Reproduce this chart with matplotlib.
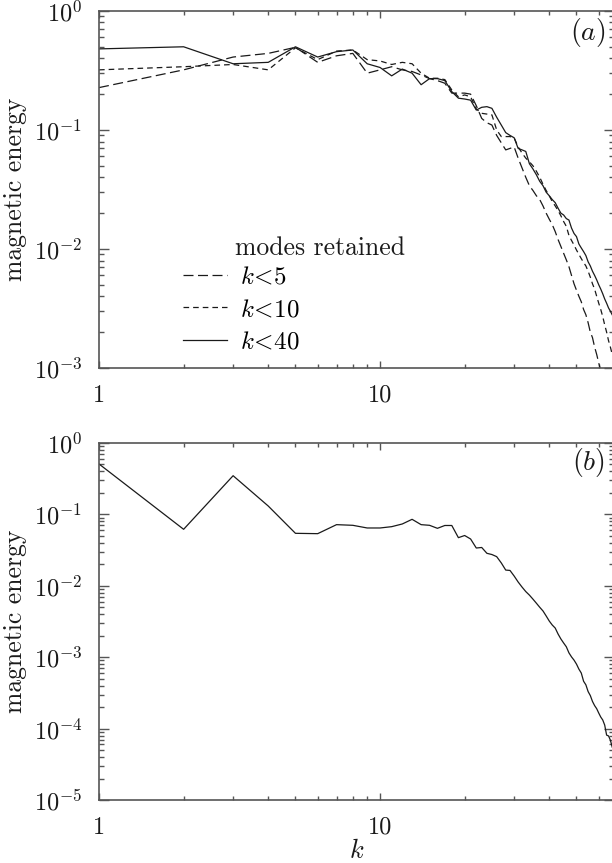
#!/usr/bin/env python3
"""Magnetic energy spectra: (a) truncated runs with k<5, k<10, k<40 retained, (b) one run."""

import matplotlib

matplotlib.use("Agg")
import matplotlib.pyplot as plt
from matplotlib.ticker import LogLocator, NullFormatter

# panel (a): energy per integer wavenumber k, one list per truncation
E_K5 = [0.227, 0.32, 0.41, 0.44, 0.495, 0.37, 0.42, 0.44, 0.30, 0.32,
        0.34, 0.32, 0.31, 0.29, 0.27, 0.26, 0.247, 0.204, 0.204, 0.204,
        0.200, 0.16, 0.125, 0.115, 0.11, 0.09, 0.078, 0.068, 0.070, 0.072,
        0.058, 0.048, 0.040, 0.034, 0.031, 0.028, 0.026, 0.023, 0.020, 0.0178,
        0.0160, 0.0140, 0.0120, 0.0105, 0.0092, 0.0081, 0.0071, 0.0060, 0.0051, 0.0045,
        0.0040, 0.0036, 0.0031, 0.0028, 0.0024, 0.0020, 0.0018, 0.0015, 0.0013, 0.0011,
        0.00095, 0.0008, 0.00068, 0.00058]
E_K10 = [0.32, 0.34, 0.355, 0.32, 0.49, 0.39, 0.46, 0.47, 0.39, 0.38,
         0.355, 0.37, 0.36, 0.30, 0.272, 0.272, 0.265, 0.217, 0.19, 0.197,
         0.19, 0.15, 0.138, 0.136, 0.134, 0.10, 0.088, 0.088, 0.088, 0.086,
         0.072, 0.064, 0.058, 0.054, 0.050, 0.045, 0.040, 0.035, 0.031, 0.028,
         0.025, 0.023, 0.021, 0.019, 0.017, 0.0155, 0.013, 0.0118, 0.0108, 0.0098,
         0.0090, 0.0083, 0.0077, 0.0072, 0.0065, 0.0058, 0.0051, 0.0046, 0.0040, 0.0035,
         0.0031, 0.0027, 0.0023, 0.0020, 0.0017, 0.0015, 0.0013]
E_K40 = [0.48, 0.50, 0.36, 0.37, 0.50, 0.41, 0.455, 0.47, 0.36, 0.335,
         0.285, 0.325, 0.30, 0.24, 0.27, 0.27, 0.26, 0.21, 0.185, 0.182,
         0.178, 0.147, 0.155, 0.157, 0.152, 0.128, 0.11, 0.095, 0.09, 0.086,
         0.07, 0.068, 0.066, 0.052, 0.047, 0.042, 0.037, 0.034, 0.030, 0.028,
         0.026, 0.0245, 0.022, 0.020, 0.0193, 0.018, 0.0175, 0.015, 0.0135, 0.0127,
         0.011, 0.0102, 0.0095, 0.0088, 0.0078, 0.0072, 0.0065, 0.0060, 0.0055, 0.0050,
         0.0046, 0.0042, 0.0038, 0.0035, 0.0032, 0.0030, 0.0028]

# panel (b)
E_B = [0.508, 0.0618, 0.348, 0.131, 0.0543, 0.0537, 0.0718, 0.0703, 0.0645, 0.0645,
       0.0673, 0.0734, 0.0853, 0.0718, 0.0703, 0.0638, 0.0699, 0.0699, 0.0472, 0.0506,
       0.0452, 0.0338, 0.0344, 0.0285, 0.0274, 0.0256, 0.0209, 0.0166, 0.0164, 0.0137,
       0.0113, 0.0096, 0.0083, 0.0074, 0.0065, 0.0057, 0.0050, 0.00444, 0.00378, 0.00321,
       0.00282, 0.00256, 0.00211, 0.00180, 0.00158, 0.00140, 0.00115, 0.00101, 0.00091, 0.00080,
       0.00068, 0.00060, 0.00046, 0.00041, 0.00033, 0.00029, 0.00024, 0.00021, 0.00019, 0.000165,
       0.000145, 0.000132, 0.000112, 8.1e-5, 7.9e-5, 6.9e-5, 5.5e-5]

LEGEND_LABELS = [r"$k\!<\!5$", r"$k\!<\!10$", r"$k\!<\!40$"]
XLIM = (1, 68)

plt.rcParams.update({
    "font.family": "serif",
    "font.serif": ["cmr10"],
    "mathtext.fontset": "cm",
    "axes.formatter.use_mathtext": True,
    "font.size": 18,
})

INK = "#1a1a1a"
SPINE = "#555555"


def style_axis(ax, ymin):
    ax.set_xscale("log")
    ax.set_yscale("log")
    ax.set_xlim(*XLIM)
    ax.set_ylim(ymin, 1.0)
    for s in ax.spines.values():
        s.set_color(SPINE)
        s.set_linewidth(1.2)
    ax.set_xticks([1, 10], ["1", "10"])
    ax.xaxis.set_minor_locator(LogLocator(base=10, subs=range(2, 10)))
    ax.xaxis.set_minor_formatter(NullFormatter())
    ax.yaxis.set_major_locator(LogLocator(base=10, numticks=20))
    ax.yaxis.set_minor_locator(LogLocator(base=10, subs=range(2, 10), numticks=20))
    ax.yaxis.set_minor_formatter(NullFormatter())
    ax.tick_params(which="both", direction="in", top=True, right=True,
                   color=SPINE, labelcolor=INK, labelsize=17.5)
    ax.tick_params(axis="y", which="major", length=7, width=1, pad=12)
    ax.tick_params(axis="y", which="minor", length=3.3, width=1)
    ax.tick_params(axis="x", which="major", length=5, width=1, pad=12)
    ax.tick_params(axis="x", which="minor", length=3, width=1)
    ax.set_ylabel("magnetic energy", fontsize=18.5, color=INK, labelpad=5)


fig = plt.figure(figsize=(6.12, 8.63), dpi=100)
ax_a = fig.add_axes([0.1618, 0.5736, 0.8415, 0.4137])
ax_b = fig.add_axes([0.1618, 0.0730, 0.8415, 0.4137])

k5 = range(1, len(E_K5) + 1)
k10 = range(1, len(E_K10) + 1)
k40 = range(1, len(E_K40) + 1)
kb = range(1, len(E_B) + 1)

la, = ax_a.plot(k5, E_K5, color=INK, lw=0.9, dashes=(8, 3.6))
lb, = ax_a.plot(k10, E_K10, color=INK, lw=0.9, dashes=(4.5, 3.2))
lc, = ax_a.plot(k40, E_K40, color=INK, lw=0.9)
style_axis(ax_a, 1e-3)
ax_a.text(0.95, 0.941, r"$(a)$", transform=ax_a.transAxes, ha="center", va="center",
          fontsize=20, color=INK)
ax_a.text(0.264, 0.336, "modes retained", transform=ax_a.transAxes, ha="left",
          va="center", fontsize=18.5, color=INK)
ax_a.legend([la, lb, lc], LEGEND_LABELS, loc="upper left", bbox_to_anchor=(0.163, 0.285),
            frameon=False, handlelength=1.75, handletextpad=0.55, labelspacing=0.4,
            borderaxespad=0, borderpad=0, fontsize=18)

ax_b.plot(kb, E_B, color=INK, lw=0.9)
style_axis(ax_b, 1e-5)
ax_b.text(0.95, 0.944, r"$(b)$", transform=ax_b.transAxes, ha="center", va="center",
          fontsize=20, color=INK)
ax_b.set_xlabel(r"$k$", fontsize=19, color=INK, labelpad=0)

fig.savefig("out.png", dpi=100)
